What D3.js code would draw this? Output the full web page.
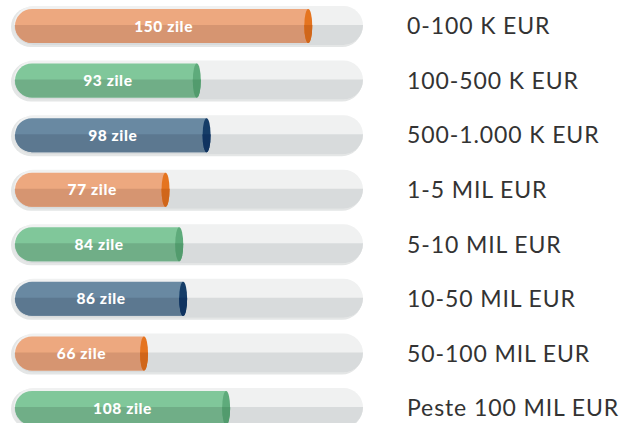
<!DOCTYPE html>
<html><head><meta charset="utf-8">
<script src="https://cdn.jsdelivr.net/npm/d3@7"></script>
<style>html,body{margin:0;padding:0;background:#fff;}svg{display:block;}</style>
</head><body>
<script>
const categories = ["0-100 K EUR","100-500 K EUR","500-1.000 K EUR","1-5 MIL EUR","5-10 MIL EUR","10-50 MIL EUR","50-100 MIL EUR","Peste 100 MIL EUR"];
const values = [150, 93, 98, 77, 84, 86, 66, 108];
const unit = "zile";
const palette = [
  {top:"#eda87f", bottom:"#d69571", cap:"#e5741f", capB:"#d0661a"},
  {top:"#80c79a", bottom:"#70ae87", cap:"#5eab7b", capB:"#529b6d"},
  {top:"#6989a2", bottom:"#5c7890", cap:"#153d68", capB:"#0f3360"}
];

const W = 634, H = 423;
const svg = d3.select("body").append("svg").attr("width", W).attr("height", H);

const x = d3.scaleLinear().domain([0, 178]).range([15, 363]);
const y = d3.scalePoint().domain(categories).range([26, 408]);

const defs = svg.append("defs");
defs.append("clipPath").attr("id","bottomHalf").attr("clipPathUnits","userSpaceOnUse")
  .append("rect").attr("x",0).attr("y",-1).attr("width",W).attr("height",30);

const bh = 34, r = bh/2;
const rows = svg.selectAll("g.row").data(categories).join("g")
  .attr("class","row").attr("transform", d => `translate(0,${y(d)})`);

// track rim
rows.append("rect").attr("x",11).attr("y",-19).attr("width",351).attr("height",40).attr("rx",20).attr("fill","#e4e6e6");
// track
rows.append("rect").attr("x",14).attr("y",-20).attr("width",349).attr("height",39).attr("rx",19.5).attr("fill","#f0f1f1");
rows.append("rect").attr("x",14).attr("y",-20).attr("width",349).attr("height",39).attr("rx",19.5).attr("fill","#d8dbdc").attr("clip-path","url(#bottomHalf)");

function barPath(v){
  const x0 = x(0), x1 = x(v);
  const p = d3.path();
  p.moveTo(x0 + r, -r);
  p.lineTo(x1, -r);
  p.lineTo(x1, r);
  p.lineTo(x0 + r, r);
  p.arc(x0 + r, 0, r, Math.PI/2, Math.PI*3/2);
  p.closePath();
  return p.toString();
}

rows.each(function(d, i){
  const g = d3.select(this);
  const v = values[i];
  const c = palette[i % 3];
  g.append("path").attr("d", barPath(v)).attr("fill", c.top);
  g.append("path").attr("d", barPath(v)).attr("fill", c.bottom).attr("clip-path","url(#bottomHalf)");
  g.append("ellipse").attr("cx", x(v)).attr("cy", 0).attr("rx", 4).attr("ry", r).attr("fill", c.cap);
  g.append("ellipse").attr("cx", x(v)).attr("cy", 0).attr("rx", 4).attr("ry", r).attr("fill", c.capB).attr("clip-path","url(#bottomHalf)");
  g.append("text").attr("x", (x(0) + x(v))/2 + 2).attr("y", 0).attr("dy","0.36em")
    .attr("text-anchor","middle").attr("fill","#ffffff")
    .attr("font-family","Lato, 'Open Sans', sans-serif").attr("font-weight","900")
    .attr("font-size","15.5px").attr("letter-spacing","0.6px")
    .text(`${v} ${unit}`);
  g.append("text").attr("x", 407).attr("y", 0).attr("dy","0.36em")
    .attr("fill","#333333").attr("font-family","Lato, 'Open Sans', sans-serif")
    .attr("font-size","23px").attr("letter-spacing","0.9px")
    .text(d);
});
</script>
</body></html>
